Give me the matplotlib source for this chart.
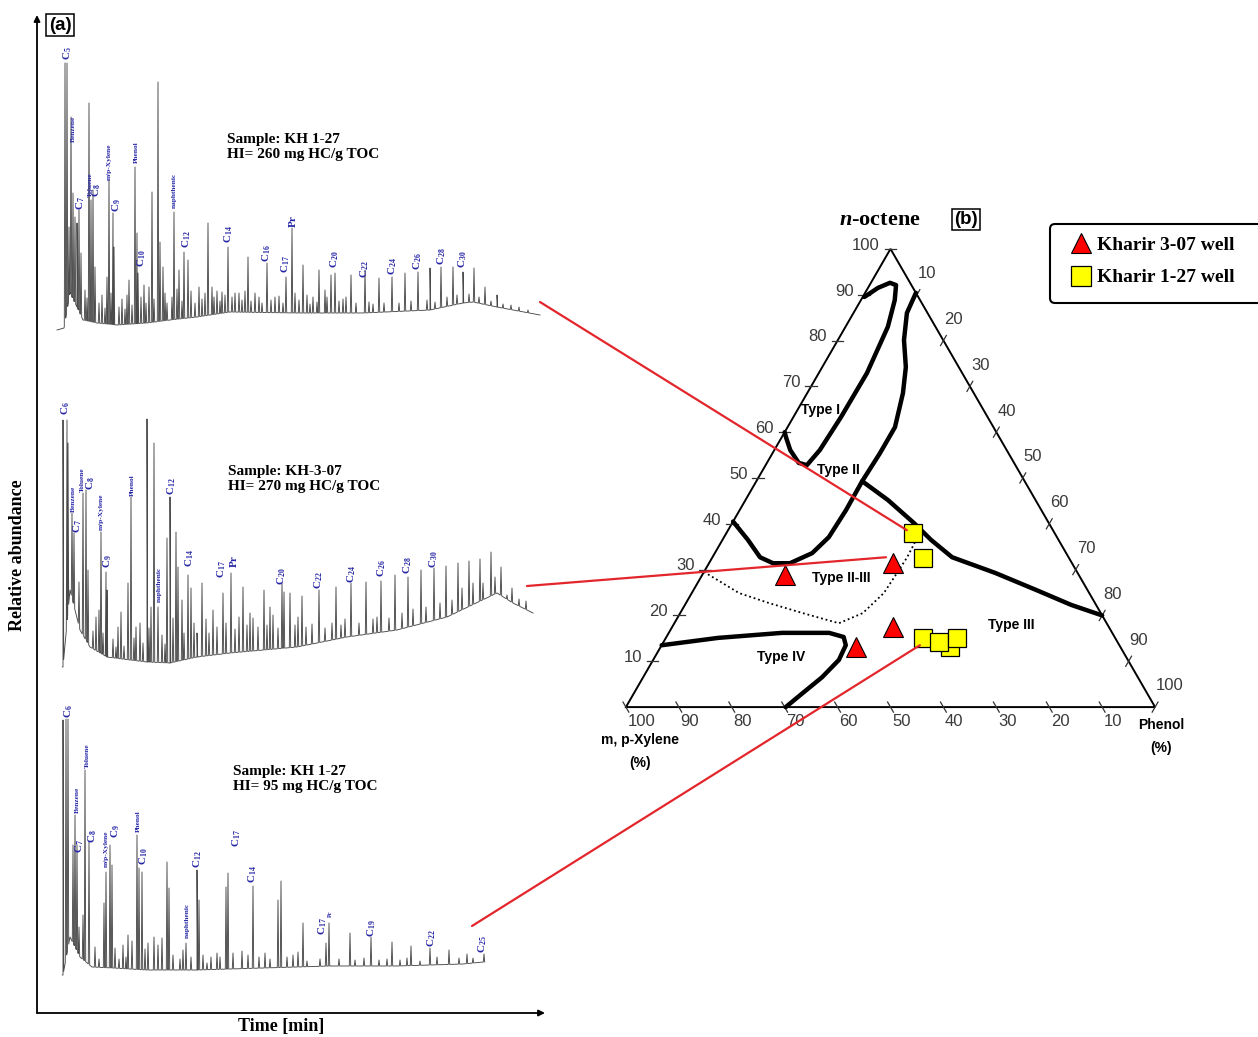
import numpy as np
import matplotlib
matplotlib.use("Agg")
import matplotlib.pyplot as plt
from matplotlib.patches import ConnectionPatch, FancyBboxPatch
from matplotlib.lines import Line2D

plt.rcParams["mathtext.fontset"] = "custom"
plt.rcParams["mathtext.rm"] = "Liberation Serif:bold"
plt.rcParams["mathtext.it"] = "Liberation Serif:italic:bold"
plt.rcParams["mathtext.bf"] = "Liberation Serif:bold"
plt.rcParams["mathtext.default"] = "regular"

# ---------------- (a) chromatograms: time [min] vs stacked relative abundance
# Trace 1: KH 1-27, HI 260
t1_base_t = [2.0, 2.7, 3.3, 4.0, 4.6, 6.0, 8.0, 11.0, 13.3, 16.0, 19.3, 26.0, 32.6, 39.3, 42.6, 43.6, 46.0, 50.3]
t1_base_y = [68.3, 68.5, 72.0, 70.6, 69.3, 69.0, 68.8, 69.0, 69.3, 69.6, 70.1, 70.0, 70.0, 70.3, 71.0, 71.1, 70.6, 69.8]
t1_peak_t = [2.8, 3.0, 3.2, 3.4, 3.6, 3.8, 4.0, 4.2, 4.4, 4.8, 5.2, 5.4, 5.6, 5.8, 7.0, 7.2, 7.6, 7.7, 9.2, 9.8,
             10.0, 10.1, 10.7, 11.2, 11.5, 12.1, 12.3, 12.6, 13.7, 14.2, 14.7, 15.1, 17.1, 17.5, 18.5, 19.1, 19.8, 21.1, 21.8, 23.0,
             23.8, 24.9, 25.5, 25.8, 26.6, 27.6, 28.2, 28.8, 29.4, 29.8, 30.9, 31.4, 32.8, 34.2, 35.5, 36.8, 38.1, 39.3, 40.4, 41.6,
             42.6, 43.7, 44.8, 46.0, 47.4, 49.1]
t1_peak_y = [95.0, 95.0, 78.6, 89.6, 82.0, 79.6, 79.0, 80.3, 76.0, 72.3, 91.0, 81.3, 82.3, 74.6, 73.6, 83.3, 80.0, 76.6, 73.3, 84.6,
             78.0, 74.0, 72.8, 72.6, 82.1, 93.1, 77.1, 74.6, 80.1, 74.3, 76.1, 75.3, 79.0, 72.6, 72.1, 76.6, 72.0, 75.6, 72.0, 75.0,
             71.6, 73.6, 78.5, 72.0, 74.8, 71.6, 74.3, 72.3, 73.8, 74.0, 71.6, 73.8, 74.3, 73.5, 73.6, 74.0, 74.1, 74.5, 74.6, 74.6,
             74.1, 74.5, 72.6, 71.8, 70.8, 70.3]
t1_minor_t = [5.0, 6.2, 6.5, 6.8, 7.4, 8.2, 8.5, 8.8, 9.0, 9.5, 10.4, 10.9, 11.7, 12.8, 13.0, 13.5, 14.0, 14.5, 15.4, 15.8,
              16.2, 16.5, 16.8, 17.7, 18.0, 18.3, 18.8, 19.5, 20.2, 20.5, 20.8, 21.4, 22.2, 22.5, 23.4, 24.2, 24.6, 26.2, 27.0, 27.3,
              28.0, 29.0, 30.2, 30.6, 31.9, 33.2, 33.6, 34.7, 36.2, 37.4, 39.0, 39.8, 41.0, 42.0, 43.2, 44.2, 45.4, 46.6, 48.2]
t1_minor_y = [71.5, 71.0, 71.8, 70.5, 72.0, 70.6, 71.4, 70.4, 71.8, 70.8, 71.6, 71.0, 71.4, 72.0, 71.0, 71.6, 72.4, 71.2, 72.2, 71.0,
              72.6, 71.4, 72.0, 71.6, 72.2, 71.2, 71.8, 71.6, 72.0, 71.3, 72.2, 71.2, 71.6, 71.0, 71.3, 71.7, 71.0, 71.3, 71.8, 70.9,
              71.1, 71.6, 71.2, 71.4, 71.0, 71.1, 70.9, 71.0, 71.0, 71.2, 71.3, 71.1, 71.6, 71.8, 71.9, 71.6, 71.2, 70.9, 70.6]
t1_names = ["C$_5$", "Benzene", "C$_7$", "Toluene", "C$_8$", "m/p-Xylene", "C$_9$", "Phenol", "C$_{10}$", "naphthenic",
            "C$_{12}$", "C$_{14}$", "C$_{16}$", "C$_{17}$", "Pr", "C$_{20}$", "C$_{22}$", "C$_{24}$", "C$_{26}$", "C$_{28}$", "C$_{30}$"]
t1_name_t = [3.1, 3.6, 4.4, 5.3, 6.0, 7.2, 8.0, 9.9, 10.5, 13.7, 15.0, 19.2, 23.0, 24.9, 25.6, 29.8, 32.8, 35.6, 38.1, 40.5, 42.6]
t1_name_y = [95.3, 87.1, 80.3, 81.6, 81.6, 83.3, 80.1, 85.0, 74.6, 80.5, 76.5, 77.0, 75.1, 74.0, 78.6, 74.5, 73.5, 73.8, 74.3, 74.8, 74.5]

# Trace 2: KH-3-07, HI 270
t2_base_t = [2.6, 3.3, 4.3, 5.3, 7.0, 9.3, 11.0, 13.3, 16.0, 19.3, 26.0, 31.0, 36.0, 41.0, 46.0, 47.6, 49.6]
t2_base_y = [34.6, 42.3, 38.3, 36.6, 35.6, 35.3, 35.1, 35.0, 35.6, 36.0, 36.6, 37.6, 38.3, 39.6, 42.0, 41.0, 40.0]
t2_peak_t = [2.6, 3.0, 3.1, 3.5, 3.7, 4.2, 4.6, 4.9, 5.1, 5.9, 6.2, 6.4, 6.9, 7.0, 8.4, 9.1, 9.4, 9.9, 10.3, 11.0,
             11.4, 11.7, 12.1, 13.0, 13.3, 13.9, 14.1, 14.5, 15.1, 15.4, 16.5, 17.6, 18.6, 19.4, 20.6, 21.3, 22.7, 23.3, 24.5, 24.7,
             25.3, 26.5, 28.2, 29.9, 31.4, 32.9, 34.4, 35.8, 37.1, 38.4, 39.7, 40.9, 42.1, 42.5, 43.2, 43.6, 44.3, 44.6, 45.4, 46.4,
             47.5, 48.9]
t2_peak_y = [59.3, 59.3, 57.0, 50.0, 48.0, 43.1, 52.0, 52.3, 44.3, 39.6, 40.3, 48.1, 44.1, 42.3, 40.1, 43.0, 51.6, 38.6, 39.0, 59.4,
             40.6, 57.0, 40.6, 47.5, 51.6, 48.1, 44.6, 41.3, 43.8, 42.5, 43.0, 40.3, 42.0, 44.0, 42.6, 40.0, 42.3, 40.6, 43.0, 42.1,
             42.0, 41.7, 42.3, 42.6, 43.0, 43.1, 43.2, 43.8, 43.6, 44.3, 44.5, 44.7, 45.0, 42.5, 45.2, 43.0, 45.4, 43.0, 46.1, 44.6,
             42.5, 41.2]
t2_minor_t = [5.6, 6.6, 7.6, 7.9, 8.1, 8.7, 9.7, 10.6, 11.2, 12.5, 12.8, 13.6, 14.7, 15.7, 16.0, 16.9, 17.2, 18.0, 18.9, 19.8,
              20.2, 21.0, 21.6, 22.1, 23.0, 23.6, 24.1, 25.8, 26.1, 26.9, 27.5, 28.8, 29.5, 30.4, 30.8, 32.2, 33.6, 34.0, 35.2, 36.5,
              37.6, 38.9, 40.3, 41.5, 45.8, 47.0, 48.2]
t2_minor_y = [38.2, 38.0, 37.4, 36.6, 38.6, 36.7, 37.5, 37.0, 38.5, 37.8, 36.9, 39.5, 38.0, 39.0, 38.0, 39.4, 38.0, 38.6, 39.0, 38.4,
              39.6, 38.8, 39.5, 38.6, 38.8, 39.8, 38.5, 38.8, 39.6, 38.6, 38.9, 38.5, 39.0, 38.8, 39.4, 39.0, 39.4, 39.6, 39.5, 40.0,
              40.4, 40.6, 41.0, 41.3, 43.6, 41.8, 41.4]
t2_names = ["C$_6$", "Benzene", "C$_7$", "Toluene", "C$_8$", "m/p-Xylene", "C$_9$", "Phenol", "naphthenic", "C$_{12}$",
            "C$_{14}$", "C$_{17}$", "Pr", "C$_{20}$", "C$_{22}$", "C$_{24}$", "C$_{26}$", "C$_{28}$", "C$_{30}$"]
t2_name_t = [2.9, 3.6, 4.1, 4.5, 5.4, 6.4, 7.1, 9.5, 12.2, 13.5, 15.3, 18.5, 19.7, 24.5, 28.2, 31.5, 34.5, 37.1, 39.7]
t2_name_y = [59.8, 50.1, 48.0, 52.1, 52.3, 48.3, 44.5, 51.7, 41.1, 51.8, 44.6, 43.5, 44.6, 42.8, 42.4, 43.0, 43.6, 43.9, 44.5]

# Trace 3: KH 1-27, HI 95
t3_base_t = [2.6, 3.3, 4.3, 5.5, 7.6, 11.0, 16.0, 22.6, 29.3, 36.0, 42.6, 44.6]
t3_base_y = [3.8, 7.6, 5.6, 4.6, 4.5, 4.3, 4.3, 4.5, 4.7, 4.7, 4.9, 5.1]
t3_peak_t = [2.6, 2.9, 3.1, 3.6, 3.8, 4.0, 4.2, 4.6, 4.8, 5.2, 6.7, 6.9, 7.3, 7.5, 9.1, 10.0, 10.2, 10.5, 11.1, 11.7,
             12.5, 13.0, 13.2, 14.9, 16.0, 16.2, 18.0, 18.9, 19.1, 19.6, 21.6, 24.1, 24.4, 26.1, 26.6, 28.9, 29.2, 31.3, 33.4, 35.5,
             37.4, 39.3, 41.2, 43.0, 44.7]
t3_peak_y = [29.3, 29.4, 29.4, 16.8, 19.8, 16.8, 8.6, 9.8, 24.3, 17.1, 11.0, 14.1, 16.8, 14.8, 7.8, 17.8, 14.5, 14.1, 7.0, 7.6,
             7.5, 15.1, 12.5, 7.0, 14.3, 11.3, 6.0, 12.6, 14.0, 6.0, 12.7, 11.3, 13.2, 6.1, 9.0, 7.0, 9.0, 8.0, 7.6, 7.1,
             6.7, 6.5, 6.3, 5.9, 5.9]
t3_minor_t = [5.8, 6.2, 7.8, 8.2, 8.6, 8.9, 9.5, 10.8, 12.1, 13.6, 14.3, 14.6, 15.4, 16.6, 17.0, 17.4, 18.3, 20.5, 21.1, 22.2,
              22.8, 23.3, 25.0, 25.6, 27.0, 28.3, 30.2, 31.8, 32.7, 34.2, 35.0, 36.3, 37.0, 38.3, 40.0, 42.2, 43.6]
t3_minor_y = [6.6, 5.4, 6.5, 5.4, 6.8, 5.6, 7.2, 6.4, 6.8, 5.8, 5.4, 6.3, 5.6, 5.8, 5.0, 5.6, 5.6, 6.2, 5.8, 5.6,
              6.0, 5.4, 5.6, 5.8, 5.2, 5.4, 5.4, 5.3, 5.5, 5.3, 5.4, 5.3, 5.5, 5.2, 5.6, 5.5, 5.5]
t3_names = ["C$_6$", "Benzene", "C$_7$", "Toluene", "C$_8$", "m/p-Xylene", "C$_9$", "Phenol", "C$_{10}$", "naphthenic",
            "C$_{12}$", "C$_{17}$", "C$_{14}$", "C$_{17}$", "Pr", "C$_{19}$", "C$_{22}$", "C$_{25}$"]
t3_name_t = [3.2, 4.0, 4.3, 5.0, 5.6, 6.9, 7.9, 10.1, 10.7, 15.0, 16.1, 20.0, 21.6, 28.6, 29.3, 33.5, 39.5, 44.6]
t3_name_y = [29.5, 20.0, 16.0, 24.5, 17.0, 14.6, 17.5, 18.1, 14.8, 7.5, 14.5, 16.6, 13.0, 7.8, 9.6, 7.6, 6.6, 6.0]

sample_text = ["Sample: KH 1-27\nHI= 260 mg HC/g TOC",
               "Sample: KH-3-07\nHI= 270 mg HC/g TOC",
               "Sample: KH 1-27\nHI= 95 mg HC/g TOC"]
sample_t = [19.0, 19.1, 19.6]
sample_y = [86.6, 53.4, 23.4]

# ---------------- (b) ternary: n-octene / m,p-xylene / phenol (%)
type1_oct = [89.5, 91.5, 92.6, 92.1, 88.8, 83.0, 72.9, 63.3, 56.1, 52.8, 53.3, 56.1, 58.9, 60.0]
type1_phe = [0.3, 1.9, 3.6, 5.0, 6.4, 8.0, 9.1, 9.0, 8.6, 7.8, 6.0, 3.0, 0.8, 0.0]
type2_oct = [90.4, 86.0, 80.1, 74.2, 68.5, 61.1, 55.4, 49.3, 43.0, 37.1, 33.6, 31.4, 31.4, 32.7, 36.5, 40.5]
type2_phe = [9.6, 10.1, 12.5, 15.8, 18.1, 20.3, 20.3, 20.0, 20.1, 19.8, 18.4, 15.3, 12.1, 9.0, 4.8, 0.0]
type3_oct = [49.3, 45.2, 40.2, 36.5, 32.7, 29.3, 25.5, 22.3, 20.0]
type3_phe = [20.0, 26.9, 34.3, 39.4, 45.3, 55.1, 64.9, 73.0, 80.0]
type4_oct = [13.5, 15.1, 16.2, 16.2, 15.3, 13.5, 10.3, 6.5, 3.1, 0.0]
type4_phe = [0.0, 9.85, 21.4, 30.3, 33.5, 34.8, 35.1, 33.8, 31.9, 30.2]
dotted_oct = [29.5, 27.7, 24.9, 22.7, 20.5, 18.3, 20.5, 24.9, 29.3, 32.7, 36.5]
dotted_phe = [0.0, 3.5, 8.9, 15.7, 23.2, 31.1, 34.5, 36.3, 36.6, 36.8, 36.6]

kh307_oct = [28.8, 31.4, 17.5, 13.1]
kh307_phe = [15.7, 34.7, 41.7, 36.9]
kh127_oct = [38.0, 32.5, 15.1, 13.1, 14.2, 15.1]
kh127_phe = [35.3, 39.9, 48.6, 54.7, 52.1, 55.1]

# links from the end of each chromatogram to its points in the diagram
link_t = [50.3, 49.0, 43.5]
link_y = [71.1, 42.7, 8.7]
link_oct = [38.6, 32.7, 13.5]
link_phe = [33.8, 32.8, 48.8]

tick_vals = [10, 20, 30, 40, 50, 60, 70, 80, 90, 100]

BLUE = "#2626a6"
SERIF = "Liberation Serif"
SANS = "Liberation Sans"
W, H = 1258, 1037

fig = plt.figure(figsize=(W / 100, H / 100), dpi=100)


def px_axes(left, top, right, bottom):
    ax = fig.add_axes([left / W, 1 - bottom / H, (right - left) / W, (bottom - top) / H])
    ax.set_axis_off()
    return ax


def draw_trace(ax, base_t, base_y, peak_t, peak_y, w=0.07):
    pts = list(zip(base_t, base_y))
    for t, y in zip(peak_t, peak_y):
        pts.append((t - w, np.interp(t - w, base_t, base_y)))
        pts.append((t, y))
        pts.append((t + w, np.interp(t + w, base_t, base_y)))
    pts.sort()
    tt, yy = zip(*pts)
    ax.plot(tt, yy, color="#4a4a4a", lw=0.65, solid_joinstyle="round")


def label_peaks(ax, names, ts, ys, pr_size=8):
    for name, t, y in zip(names, ts, ys):
        if name.startswith("C$"):
            size = 8
        elif name == "Pr":
            size = pr_size
        else:
            size = 5.3
        ax.text(t, y, name, rotation=90, ha="center", va="bottom", color=BLUE,
                fontsize=size, fontfamily=SERIF, fontweight="bold")


ax_a = px_axes(37, 15, 545, 1013)
ax_a.set_xlim(0, 50.8)
ax_a.set_ylim(0, 99.8)
arrow = dict(arrowstyle="-|>", lw=1.3, color="black", mutation_scale=9, shrinkA=0, shrinkB=0)
ax_a.annotate("", xy=(0, 1), xytext=(0, 0), xycoords="axes fraction", arrowprops=arrow)
ax_a.annotate("", xy=(1, 0), xytext=(0, 0), xycoords="axes fraction", arrowprops=arrow)

draw_trace(ax_a, t1_base_t, t1_base_y, t1_peak_t + t1_minor_t, t1_peak_y + t1_minor_y)
draw_trace(ax_a, t2_base_t, t2_base_y, t2_peak_t + t2_minor_t, t2_peak_y + t2_minor_y)
draw_trace(ax_a, t3_base_t, t3_base_y, t3_peak_t + t3_minor_t, t3_peak_y + t3_minor_y)
label_peaks(ax_a, t1_names, t1_name_t, t1_name_y)
label_peaks(ax_a, t2_names, t2_name_t, t2_name_y)
label_peaks(ax_a, t3_names, t3_name_t, t3_name_y, pr_size=4.5)
for txt, t, y in zip(sample_text, sample_t, sample_y):
    ax_a.text(t, y, txt, ha="left", va="center", fontsize=11, fontfamily=SERIF,
              fontweight="bold", linespacing=1.2)

fig.text(60 / W, 1 - 25 / H, "(a)", ha="center", va="center", fontsize=13.5, fontfamily=SANS,
         fontweight="bold", bbox=dict(boxstyle="square,pad=0.12", fc="white", ec="black", lw=1.1))
fig.text(18 / W, 1 - 555 / H, "Relative abundance", rotation=90, ha="center", va="center",
         fontsize=13, fontfamily=SERIF, fontweight="bold")
fig.text(281 / W, 1 - 1027 / H, "Time [min]", ha="center", va="center",
         fontsize=13, fontfamily=SERIF, fontweight="bold")

# ternary axes, cartesian units: base 0..100
S3 = np.sqrt(3) / 2


def tern(octene, phenol):
    o = np.asarray(octene, dtype=float)
    p = np.asarray(phenol, dtype=float)
    return p + o / 2, o * S3


ax_t = px_axes(573, 178, 1208, 760)
ax_t.set_xlim(-10, 110)
ax_t.set_ylim(-10, 100)
ax_t.plot([0, 100, 50, 0], [0, 0, 100 * S3, 0], color="black", lw=1.4, solid_joinstyle="miter")

tick_kw = dict(fontsize=12, fontfamily=SANS, color="#3a3a3a")
d = 1.1
for v in tick_vals:
    x0 = 100 - v
    ax_t.plot([x0 + 0.5 * d, x0 - 0.5 * d], [-S3 * d, S3 * d], color="#333333", lw=0.9)
    ax_t.text(x0 + 0.3, -2.7, str(v), ha="left", va="center", **tick_kw)
    x0, y0 = tern(v, 0)
    ax_t.plot([x0 - d, x0 + d], [y0, y0], color="#333333", lw=0.9)
    ax_t.text(x0 - 2.0, y0 + 0.7, str(v), ha="right", va="center", **tick_kw)
    x0, y0 = tern(100 - v, v)
    ax_t.plot([x0 - 0.5 * d, x0 + 0.5 * d], [y0 - S3 * d, y0 + S3 * d], color="#333333", lw=0.9)
    ax_t.text(x0 + 0.2, y0 + 4.0, str(v), ha="left", va="center", **tick_kw)

for oct_, phe_ in [(type1_oct, type1_phe), (type2_oct, type2_phe), (type3_oct, type3_phe), (type4_oct, type4_phe)]:
    x, y = tern(oct_, phe_)
    ax_t.plot(x, y, color="black", lw=3.2, solid_capstyle="round", solid_joinstyle="round")
x, y = tern(dotted_oct, dotted_phe)
ax_t.plot(x, y, color="black", lw=1.3, ls=(0, (1, 1.6)))

x, y = tern(kh307_oct, kh307_phe)
ax_t.plot(x, y, ls="none", marker="^", ms=15, mfc="#ff0000", mec="black", mew=0.8, zorder=5)
x, y = tern(kh127_oct, kh127_phe)
ax_t.plot(x, y, ls="none", marker="s", ms=13, mfc="#ffff00", mec="black", mew=0.9, zorder=5)

type_kw = dict(fontsize=10, fontfamily=SANS, fontweight="bold", ha="center", va="center")
ax_t.text(36.7, 56.1, "Type I", **type_kw)
ax_t.text(40.1, 44.8, "Type II", **type_kw)
ax_t.text(40.6, 24.4, "Type II-III", **type_kw)
ax_t.text(72.8, 15.5, "Type III", **type_kw)
ax_t.text(29.3, 9.45, "Type IV", **type_kw)
ax_t.text(2.6, -6.2, "m, p-Xylene", **type_kw)
ax_t.text(2.6, -10.6, "(%)", **type_kw)
ax_t.text(101.1, -3.4, "Phenol", **type_kw)
ax_t.text(101.1, -7.75, "(%)", **type_kw)
ax_t.text(48.0, 92.1, r"$\mathit{n}$-octene", ha="center", va="center", fontsize=16,
          fontfamily=SERIF, fontweight="bold")
ax_t.text(64.3, 92.2, "(b)", ha="center", va="center", fontsize=13.5, fontfamily=SANS, fontweight="bold",
          bbox=dict(boxstyle="square,pad=0.12", fc="white", ec="black", lw=1.1))

for t, y, o, p in zip(link_t, link_y, link_oct, link_phe):
    xb, yb = tern(o, p)
    con = ConnectionPatch(xyA=(t, y), coordsA=ax_a.transData, xyB=(float(xb), float(yb)),
                          coordsB=ax_t.transData, color="#e3262b", lw=1.6)
    fig.add_artist(con)

# legend
ax_o = px_axes(0, 0, W, H)
ax_o.set_xlim(0, W)
ax_o.set_ylim(H, 0)
ax_o.add_patch(FancyBboxPatch((1050, 224), 220, 79, boxstyle="round,pad=0,rounding_size=5",
                              fc="none", ec="black", lw=1.5, clip_on=False))
handles = [Line2D([], [], ls="none", marker="^", ms=15, mfc="#ff0000", mec="black", mew=0.8,
                  label="Kharir 3-07 well"),
           Line2D([], [], ls="none", marker="s", ms=14, mfc="#ffff00", mec="black", mew=0.9,
                  label="Kharir 1-27 well")]
fig.legend(handles=handles, loc="upper left", bbox_to_anchor=(1071 / W, 1 - 236 / H), frameon=False,
           prop=dict(family=SERIF, weight="bold", size=14), handlelength=1.0, handletextpad=0.35,
           labelspacing=0.78, borderpad=0, borderaxespad=0)

fig.savefig("out.png", dpi=100)
